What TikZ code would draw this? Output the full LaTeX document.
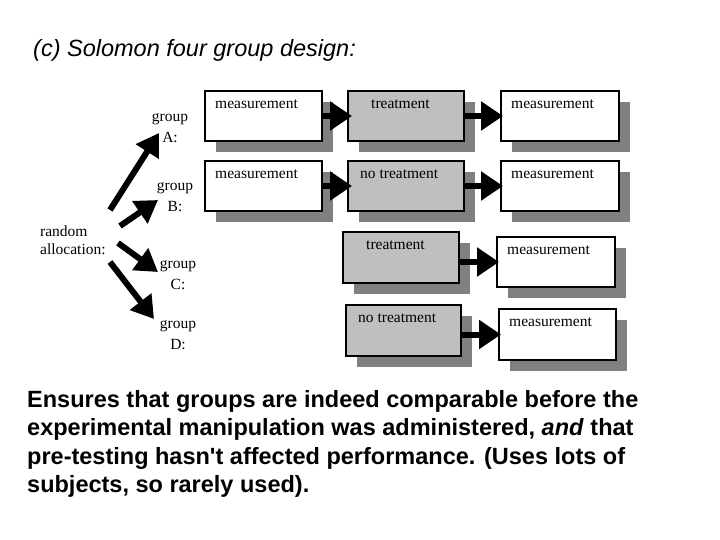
\documentclass[tikz,border=0pt]{standalone}
\usepackage{fontspec}
\setmainfont{Liberation Serif}
\newfontfamily\arial{Liberation Sans}
\usetikzlibrary{arrows.meta}
\begin{document}
\begin{tikzpicture}[x=1pt,y=-1pt,
  box/.style={draw=black,line width=1.8pt},
  shadow/.style={fill=black!50},
  lbl/.style={anchor=north west,inner sep=0pt,font=\fontsize{15.5}{18}\selectfont},
  grp/.style={align=center,inner sep=0pt,font=\fontsize{15.5}{21}\selectfont},
  arr/.style={line width=6pt,-{Triangle[length=22pt,width=28pt]}},
  garr/.style={line width=6pt,-{Triangle[length=22pt,width=26pt]}}]
\useasboundingbox (0,0) rectangle (720,540);
\node[anchor=west,inner sep=0pt,font=\arial\itshape\fontsize{23.5}{26}\selectfont] (title) at (33,50) {(c) Solomon four group design:};
\foreach \n/\xa/\ya/\xb/\yb/\f/\t/\tx in {
  a1/205/91/322/141/white/measurement/10,
  a2/348/91/464/141/black!25/treatment/23,
  a3/501/91/619/141/white/measurement/10,
  b1/205/161/322/211/white/measurement/10,
  b2/348/161/464/211/black!25/no treatment/12,
  b3/501/161/619/211/white/measurement/10,
  c2/343/232/459/283/black!25/treatment/23,
  c3/497/237/615/287/white/measurement/10,
  d2/346/305/461/356/black!25/no treatment/12,
  d3/499/309/616/360/white/measurement/10}{
  \fill[shadow] (\xa+11,\ya+11) rectangle (\xb+11,\yb+11);
  \draw[box,fill=\f] (\xa,\ya) rectangle (\xb,\yb);
  \coordinate (\n w) at (\xa,{(\ya+\yb)/2});
  \coordinate (\n e) at (\xb,{(\ya+\yb)/2});
  \node[lbl] (\n t) at (\xa+\tx,\ya+9) {\t};
}
\draw[arr] (a1e) -- ([xshift=4pt]a2w);
\draw[arr] (a2e) -- ([xshift=2pt]a3w);
\draw[arr] (b1e) -- ([xshift=4pt]b2w);
\draw[arr] (b2e) -- ([xshift=2pt]b3w);
\draw[arr] (c2e |- c3w) -- ([xshift=2pt]c3w);
\draw[arr] (d2e |- d3w) -- ([xshift=2pt]d3w);
\node[grp] (gA) at (170,128) {group\\A:};
\node[grp] (gB) at (175,197) {group\\B:};
\node[grp] (gC) at (178,275) {group\\C:};
\node[grp] (gD) at (178,335) {group\\D:};
\node[align=left,inner sep=0pt,anchor=west,font=\fontsize{15.5}{18}\selectfont] (ra) at (40,240) {random\\allocation:};
\coordinate (rA) at (110,210);
\coordinate (rB) at (120,226);
\coordinate (rC) at (118,243);
\coordinate (rD) at (110,262);
\coordinate (tA) at (159,133);
\coordinate (tB) at (158,200);
\coordinate (tC) at (158,272);
\coordinate (tD) at (154,319);
\draw[garr] (rA) -- (tA);
\draw[garr] (rB) -- (tB);
\draw[garr] (rC) -- (tC);
\draw[garr] (rD) -- (tD);
\node[anchor=north west,align=left,inner sep=0pt,font=\arial\bfseries\fontsize{23.5}{28.5}\selectfont] (body) at (27,390) {Ensures that groups are indeed comparable before the\\experimental manipulation was administered, \textit{and} that\\pre-testing hasn't affected performance. (Uses lots of\\subjects, so rarely used).};
\end{tikzpicture}
\end{document}
